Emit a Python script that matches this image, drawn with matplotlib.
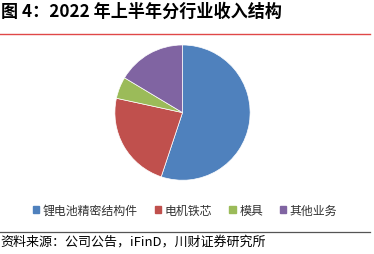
import matplotlib
matplotlib.use("Agg")
import matplotlib.pyplot as plt
import matplotlib.patches as patches
from matplotlib.lines import Line2D

plt.rcParams['font.family'] = ['Noto Sans CJK SC', 'DejaVu Sans']

labels = ['锂电池精密结构件', '电机铁芯', '模具', '其他业务']
shares = [55.1, 23.3, 5.2, 16.4]
colors = ['#4F81BD', '#C0504D', '#9BBB59', '#8064A2']

fig = plt.figure(figsize=(3.74, 2.55), dpi=100)

ax = fig.add_axes([0.3035, 0.284, 0.369, 0.541])
ax.pie(shares, colors=colors, startangle=90, counterclock=False,
       wedgeprops=dict(edgecolor='white', linewidth=0.5))
ax.set_xlim(-1.02, 1.02)
ax.set_ylim(-1.02, 1.02)
ax.set_aspect('equal')

# title and the red rule under it
fig.text(0.002, 0.952, '图 4：2022 年上半年分行业收入结构', fontsize=12.3,
         fontweight='bold', va='center', ha='left', color='black')
fig.add_artist(Line2D([0, 0.99], [0.862, 0.862], color='#E04848', lw=1))

handles = [patches.Rectangle((0, 0), 1, 1, color=c) for c in colors]
fig.legend(handles, labels, loc='center', bbox_to_anchor=(0.495, 0.172),
           ncol=4, frameon=False, fontsize=8.6, handlelength=0.55,
           handleheight=0.55, handletextpad=0.3, columnspacing=1.4,
           labelcolor='#333333')

# source line
fig.add_artist(Line2D([0, 0.99], [0.086, 0.086], color='#555555', lw=0.9))
fig.text(0.002, 0.052, '资料来源：公司公告，iFinD，川财证券研究所', fontsize=9.4,
         style='italic', va='center', ha='left', color='black')

fig.savefig('out.png', dpi=100)
